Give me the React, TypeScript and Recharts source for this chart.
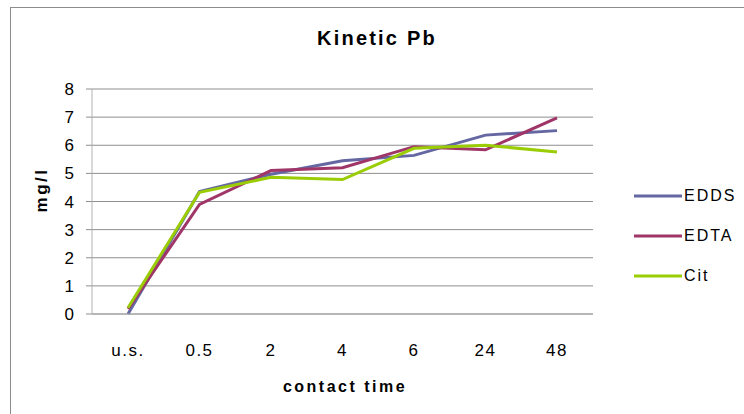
import { CartesianGrid, Label, Line, LineChart, XAxis, YAxis } from "recharts";

const times = ["u.s.", "0.5", "2", "4", "6", "24", "48"];
const edds = [0, 4.35, 4.97, 5.45, 5.64, 6.36, 6.52];
const edta = [0.18, 3.9, 5.1, 5.2, 5.95, 5.84, 6.97];
const cit = [0.22, 4.33, 4.86, 4.78, 5.89, 6.0, 5.76];
const yTicks = [0, 1, 2, 3, 4, 5, 6, 7, 8];

const series = [
  { key: "EDDS", color: "#6467a2" },
  { key: "EDTA", color: "#a03568" },
  { key: "Cit", color: "#9acd06" },
];

const data = times.map((t, i) => ({ time: t, EDDS: edds[i], EDTA: edta[i], Cit: cit[i] }));

const font = "'Liberation Sans', Arial, sans-serif";

function LegendBox() {
  return (
    <div style={{ position: "absolute", left: 634, top: 176, fontFamily: font, fontSize: 16, color: "#000" }}>
      {series.map((s) => (
        <div key={s.key} style={{ display: "flex", alignItems: "center", height: 40 }}>
          <svg width={48} height={6}>
            <line x1={0} x2={48} y1={3} y2={3} stroke={s.color} strokeWidth={3} />
          </svg>
          <span style={{ marginLeft: 2, letterSpacing: 2 }}>{s.key}</span>
        </div>
      ))}
    </div>
  );
}

export default function App() {
  return (
    <div style={{ position: "absolute", left: 0, top: 0, width: 744, height: 414, overflow: "hidden", background: "#fff" }}>
      <div
        style={{
          position: "absolute",
          left: 10,
          top: 7,
          width: 780,
          height: 440,
          border: "1px solid #8c8c8c",
        }}
      />
      <LineChart
        width={744}
        height={414}
        data={data}
        margin={{ top: 89, right: 151, bottom: 70, left: 0 }}
        style={{ position: "absolute", left: 0, top: 0, fontFamily: font }}
      >
        <text x={377} y={45} textAnchor="middle" fontFamily={font} fontSize={20} fontWeight="bold" letterSpacing={2.2} fill="#000">
          Kinetic Pb
        </text>
        <CartesianGrid vertical={false} stroke="#8f8f8f" strokeWidth={1} />
        <XAxis
          dataKey="time"
          height={30}
          padding={{ left: 36, right: 36 }}
          tickLine={false}
          axisLine={{ stroke: "#a6a6a6" }}
          tickMargin={24}
          tick={{ fill: "#000", fontSize: 17, letterSpacing: 1.5 }}
          interval={0}
        >
          <Label
            content={() => (
              <text x={345} y={392} textAnchor="middle" fontFamily={font} fontSize={16} fontWeight="bold" letterSpacing={2.5} fill="#000">
                contact time
              </text>
            )}
          />
        </XAxis>
        <YAxis
          width={92}
          domain={[0, 8]}
          ticks={yTicks}
          interval={0}
          axisLine={{ stroke: "#b3b3b3" }}
          tickLine={{ stroke: "#8f8f8f" }}
          tickSize={6}
          tickMargin={12}
          tick={{ fill: "#000", fontSize: 17 }}
        >
          <Label
            content={() => (
              <text
                x={47}
                y={190}
                transform="rotate(-90 47 190)"
                textAnchor="middle"
                fontFamily={font}
                fontSize={17}
                fontWeight="bold"
                letterSpacing={2.5}
                fill="#000"
              >
                mg/l
              </text>
            )}
          />
        </YAxis>
        {series.map((s) => (
          <Line
            key={s.key}
            dataKey={s.key}
            name={s.key}
            type="linear"
            stroke={s.color}
            strokeWidth={3}
            dot={false}
            activeDot={false}
            isAnimationActive={false}
          />
        ))}
      </LineChart>
      <LegendBox />
    </div>
  );
}
